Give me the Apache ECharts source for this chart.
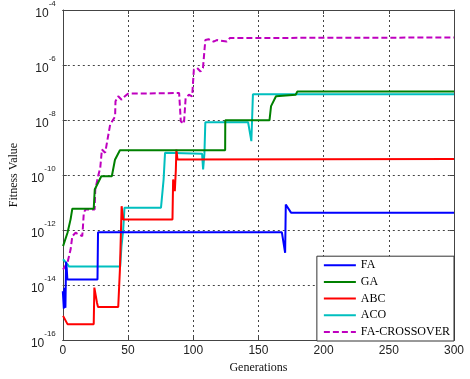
<!DOCTYPE html>
<html>
<head>
<meta charset="utf-8">
<script src="https://cdn.jsdelivr.net/npm/echarts@6/dist/echarts.min.js"></script>
<style>html,body{margin:0;padding:0;background:#fff;}#c{width:470px;height:379px;}</style>
</head>
<body>
<div id="c"></div>
<script>
var seriesNames = ['FA', 'GA', 'ABC', 'ACO', 'FA-CROSSOVER'];
var xTicks = [0, 50, 100, 150, 200, 250, 300];
var yTickExponents = [-16, -14, -12, -10, -8, -6, -4];

var faGen = [0, 0.8, 1.2, 1.6, 2, 2.5, 3, 3.5, 26.6, 27, 168, 170.5, 171, 172, 175, 300];
var faVal = [6e-15, 1.4e-15, 8e-15, 2e-15, 1.5e-15, 7e-14, 4e-14, 1.6e-14, 1.6e-14, 8.3e-13, 8.3e-13, 1.5e-13, 8.5e-12, 8.5e-12, 4.3e-12, 4.3e-12];

var gaGen = [0.2, 3.6, 6, 7.3, 23.7, 24.5, 29.5, 37.6, 40, 43.8, 124.5, 124.6, 158.5, 159.7, 163.5, 164.7, 178.6, 179.9, 300];
var gaVal = [2.6e-13, 8e-13, 2.5e-12, 6e-12, 6e-12, 3e-11, 9e-11, 9e-11, 3.6e-10, 8e-10, 8e-10, 9.8e-9, 9.8e-9, 3.2e-8, 7.3e-8, 8.3e-8, 8.3e-8, 1.1e-7, 1.1e-7];

var abcGen = [0.2, 3.6, 23.7, 24.2, 26.2, 27, 42.5, 43.8, 45.1, 46.3, 84.1, 84.6, 85.4, 85.9, 86.7, 87.1, 87.9, 300];
var abcVal = [7.6e-16, 3.8e-16, 3.8e-16, 8.1e-15, 2.3e-15, 1.6e-15, 1.6e-15, 3.7e-14, 7.4e-12, 2.4e-12, 2.4e-12, 6.9e-11, 6.9e-11, 2.6e-11, 1.6e-10, 8.5e-10, 3.7e-10, 3.8e-10];

var acoGen = [0.2, 3.6, 4.8, 44, 45, 46.3, 47.3, 75.3, 76.6, 77.3, 78.4, 79.1, 106.8, 107.6, 108.6, 109.3, 142.1, 144.6, 145.8, 300];
var acoVal = [8.7e-14, 5.7e-14, 4.7e-14, 4.7e-14, 2.6e-13, 1e-12, 6.5e-12, 6.5e-12, 3e-11, 6.9e-11, 6.5e-10, 7.3e-10, 6e-10, 1.6e-10, 6e-10, 8.3e-9, 8.3e-9, 1.7e-9, 8.7e-8, 8.7e-8];

var fcGen = [0.2, 3.6, 6, 7.3, 9.8, 12.3, 14.9, 15.3, 16.1, 17.4, 22.4, 23.7, 24.4, 24.9, 27.4, 28.7, 30, 32.5, 33.8, 36.3, 40.1, 40.4, 42.5, 45.1, 47.6, 50.1, 89.2, 90.5, 92.9, 94.2, 96.7, 99.2, 100.5, 103, 105.6, 107.5, 109.3, 111.8, 115.6, 118.1, 125.7, 128.2, 135.8, 300];
var fcVal = [3.7e-14, 6.6e-14, 2e-13, 6e-13, 8e-13, 6.9e-13, 6e-13, 1.05e-12, 4.3e-12, 5.6e-12, 5.6e-12, 4.9e-12, 5.6e-12, 3e-11, 1.05e-10, 1.8e-10, 8.5e-10, 6.5e-10, 6.5e-10, 6.8e-9, 1.35e-8, 4.8e-8, 7.3e-8, 5.5e-8, 7.3e-8, 9.1e-8, 9.6e-8, 8.9e-9, 7.4e-9, 6.3e-8, 8.3e-8, 7.3e-8, 6.8e-7, 7.8e-7, 5.8e-7, 7.8e-7, 8.1e-6, 8.7e-6, 7.1e-6, 8.1e-6, 7.1e-6, 9.6e-6, 9.6e-6, 1e-5];

var colors = ['#0000ff', '#008000', '#ff0000', '#00bfbf', '#bf00bf'];

function zip(a, b) { return a.map(function (v, i) { return [v, b[i]]; }); }
var allData = [zip(faGen, faVal), zip(gaGen, gaVal), zip(abcGen, abcVal), zip(acoGen, acoVal), zip(fcGen, fcVal)];

var chart = echarts.init(document.getElementById('c'), null, {renderer: 'canvas'});
var series = seriesNames.map(function (n, i) {
  return {
    name: n, type: 'line', data: allData[i], showSymbol: false, symbol: 'none',
    animation: false, z: 10 - i,
    lineStyle: {color: colors[i], width: 2, type: i === 4 ? [6, 3] : 'solid'},
    itemStyle: {color: colors[i]}
  };
});
series.reverse();

var axisLineStyle = {color: '#444', width: 1};
chart.setOption({
  backgroundColor: '#fff',
  animation: false,
  color: colors,
  grid: {left: 57, right: 16, top: 10, bottom: 38, show: false},
  legend: {
    data: seriesNames, orient: 'vertical', right: 16, bottom: 38,
    backgroundColor: '#fff', borderColor: '#333', borderWidth: 1,
    padding: [3, 4, 3, 6], itemGap: 4.7, itemWidth: 32, itemHeight: 12,
    textStyle: {fontFamily: 'Liberation Serif', fontSize: 12, color: '#000', lineHeight: 12},
    itemStyle: {opacity: 0}
  },
  xAxis: [{
    type: 'value', min: 0, max: 300, interval: 50, position: 'bottom',
    name: 'Generations', nameLocation: 'middle', nameGap: 19,
    nameTextStyle: {fontFamily: 'Liberation Serif', fontSize: 12, color: '#111'},
    axisLine: {show: true, lineStyle: axisLineStyle},
    axisTick: {show: true, inside: true, length: 4, lineStyle: axisLineStyle},
    axisLabel: {fontFamily: 'Liberation Sans', fontSize: 12, color: '#222', margin: 5,
      formatter: function (v) { return xTicks.indexOf(v) >= 0 ? String(v) : ''; }},
    splitLine: {show: true, lineStyle: {color: '#444', type: [2, 3], width: 1}}
  }, {
    type: 'value', min: 0, max: 300, interval: 50, position: 'top',
    axisLine: {show: true, onZero: false, lineStyle: axisLineStyle},
    axisTick: {show: true, inside: true, length: 4, lineStyle: axisLineStyle},
    axisLabel: {show: false}, splitLine: {show: false}
  }],
  yAxis: [{
    type: 'log', logBase: 10, min: 1e-16, max: 1e-4, interval: 2,
    name: 'Fitness Value', nameLocation: 'middle', nameGap: 33, nameRotate: 90,
    nameTextStyle: {fontFamily: 'Liberation Serif', fontSize: 12, color: '#111'},
    axisLine: {show: true, lineStyle: axisLineStyle},
    axisTick: {show: true, inside: true, length: 4, lineStyle: axisLineStyle},
    axisLabel: {
      margin: 7,
      formatter: function (v) {
        var e = Math.round(Math.log(v) / Math.LN10);
        return yTickExponents.indexOf(e) >= 0 ? '{b|10}{e|' + e + '}' : '';
      },
      rich: {
        b: {fontFamily: 'Liberation Sans', fontSize: 12, color: '#222', verticalAlign: 'bottom', lineHeight: 14},
        e: {fontFamily: 'Liberation Sans', fontSize: 8, color: '#222', verticalAlign: 'top', lineHeight: 20, padding: [0, 0, 8, 0]}
      }
    },
    splitLine: {show: true, lineStyle: {color: '#444', type: [2, 3], width: 1}}
  }, {
    type: 'log', logBase: 10, min: 1e-16, max: 1e-4, interval: 2, position: 'right',
    axisLine: {show: true, onZero: false, lineStyle: axisLineStyle},
    axisTick: {show: true, inside: true, length: 4, lineStyle: axisLineStyle},
    axisLabel: {show: false}, splitLine: {show: false}
  }],
  series: series
});
</script>
</body>
</html>
